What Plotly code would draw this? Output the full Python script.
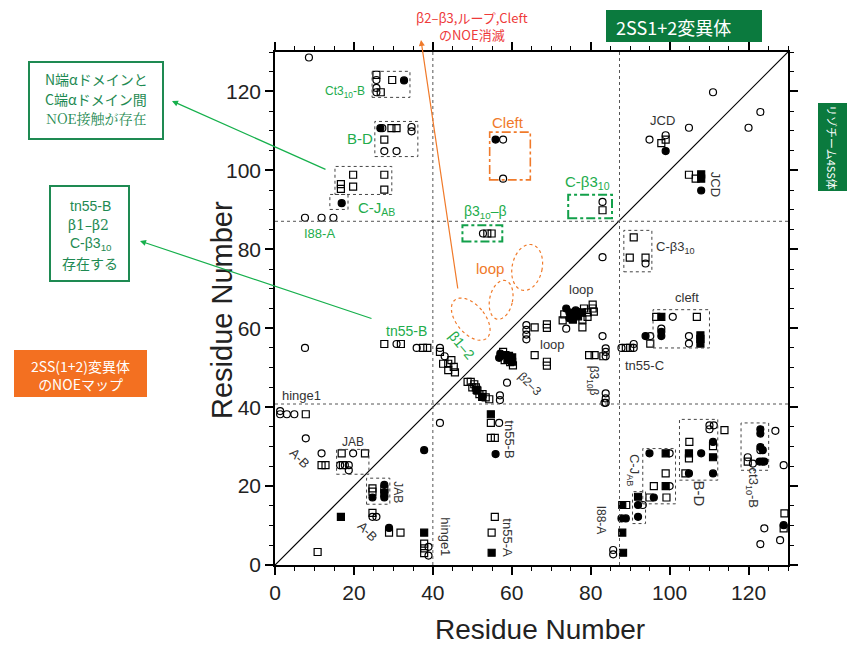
import numpy as np
import plotly.graph_objects as go

# ---------------- data (residue i, residue j) ----------------
oc_x = [8.6, 25.7, 25.7, 25.7, 27.2, 34.6, 34.6, 27.7, 30.8, 7.6, 11.8, 14.8, 57.8, 57.8, 83.0, 52.7,
        111.0, 123.0, 120.0, 104.9, 94.9, 99.0,
        7.6, 30.8, 35.9, 41.8, 43.0, 83.0, 73.8, 63.7, 63.7, 63.7, 63.7, 83.0, 83.8, 83.8, 83.8,
        83.8, 83.8, 83.8, 87.8, 58.8, 57.0, 57.0, 83.5,
        93.9, 100.8, 97.9, 104.9, 104.9, 95.1, 90.9, 90.9,
        1.3, 1.3, 3.0, 4.9, 7.8, 11.8, 19.8, 16.5, 17.7, 18.7, 18.7, 41.8, 24.7, 25.7, 38.9, 38.9,
        56.8, 85.7, 85.7, 93.2, 100.0, 100.0, 110.1, 111.2, 110.1, 126.8, 123.0, 119.8, 121.1, 123.5,
        128.9, 124.0, 128.0, 123.0]
oc_y = [128.6, 122.9, 120.9, 119.8, 110.7, 111.0, 109.9, 104.9, 104.9, 88.0, 88.0, 88.0, 107.8, 97.9, 92.0, 84.0,
        119.8, 114.8, 110.8, 110.8, 107.8, 108.9,
        55.0, 56.0, 55.0, 55.0, 52.9, 78.0, 59.9, 60.8, 59.6, 58.4, 57.2, 58.0, 54.9, 54.0, 52.9,
        43.5, 42.2, 41.1, 55.0, 46.2, 43.0, 41.8, 41.1,
        76.4, 62.9, 59.9, 58.0, 56.1, 58.0, 55.0, 56.0,
        39.0, 38.2, 38.2, 38.2, 32.1, 28.3, 28.3, 25.3, 25.3, 25.3, 24.0, 36.0, 12.2, 12.2, 4.6, 2.4,
        36.0, 3.8, 2.7, 15.2, 28.3, 20.0, 35.4, 35.4, 34.4, 34.0, 29.1, 27.3, 25.7, 26.2,
        25.3, 9.3, 6.3, 5.3]

os_x = [25.7, 29.7, 26.8, 29.5, 30.8, 27.7, 19.8, 27.7, 16.7, 16.7, 19.8, 27.7, 83.0, 53.8, 54.9,
        99.0, 97.9, 104.9, 106.6,
        27.7, 31.9, 37.5, 38.6, 41.8, 42.6, 43.9, 44.7, 43.9, 45.3, 45.6,
        65.8, 68.9, 68.9, 77.9, 65.8, 68.9, 68.9, 79.6, 81.0, 83.2, 88.9, 90.0,
        72.9, 73.3, 78.3, 79.2, 80.5, 80.5, 80.8, 79.2, 77.9,
        57.8, 59.6, 58.2, 60.3,
        48.8, 49.6, 50.5, 50.0, 50.9, 51.3, 51.8, 52.6, 53.4, 54.3,
        90.9, 89.9, 93.9, 96.6, 106.9, 95.1,
        7.8, 11.8, 12.8, 16.9, 22.8, 17.2, 24.7, 24.7, 27.7, 24.7, 28.9, 31.8, 10.8, 37.8, 37.8, 37.8,
        54.7, 54.7, 55.7, 55.7, 54.9, 89.0, 99.0, 96.0, 94.9, 99.2, 113.9, 105.0, 111.0, 104.9, 104.0,
        119.8, 129.1, 128.9]
os_y = [124.2, 122.9, 119.8, 110.7, 110.7, 107.8, 98.9, 98.9, 96.5, 95.3, 95.9, 95.1, 89.9, 84.0, 84.0,
        107.8, 106.9, 98.9, 97.9,
        56.0, 56.0, 55.0, 55.0, 54.0, 51.0, 51.0, 51.9, 49.4, 50.2, 48.8,
        60.2, 61.0, 60.1, 60.2, 53.2, 51.5, 50.5, 53.2, 53.2, 52.9, 55.0, 55.0,
        62.0, 63.5, 65.0, 64.0, 66.0, 65.0, 64.2, 62.9, 62.2,
        54.0, 51.4, 51.9, 50.6,
        46.4, 46.4, 45.8, 45.0, 45.0, 44.2, 43.3, 43.3, 42.5, 42.0,
        83.0, 77.9, 77.9, 62.9, 62.9, 56.1,
        38.2, 25.3, 25.3, 28.3, 28.3, 25.3, 19.4, 18.6, 19.2, 13.2, 8.2, 8.2, 3.3, 5.4, 4.2, 3.0,
        36.0, 32.2, 32.2, 12.2, 8.2, 15.2, 23.2, 20.0, 17.1, 17.1, 34.2, 31.2, 30.1, 27.0, 23.2,
        26.2, 13.1, 9.3]

fc_x = [32.7, 26.7, 16.9, 55.9, 99.0, 108.0,
        73.8, 74.6, 75.4, 74.6, 76.2,
        56.8, 57.1,
        93.9, 97.9, 97.9,
        37.8, 24.7, 27.7, 27.7, 28.9, 55.9, 87.8, 88.9, 94.9, 96.0, 92.0, 92.0, 111.0, 108.0, 104.9,
        111.0, 123.0, 123.0, 123.0, 123.6, 122.8, 124.0, 128.9]
fc_y = [122.8, 110.7, 91.7, 107.8, 104.9, 94.9,
        65.0, 64.0, 63.2, 62.5, 64.5,
        52.5, 53.6,
        58.0, 59.1, 58.0,
        29.1, 17.1, 20.3, 17.1, 9.4, 28.1, 11.8, 11.8, 28.3, 17.1, 15.2, 12.2, 31.2, 28.3, 23.2,
        23.2, 34.4, 33.3, 29.9, 29.1, 26.2, 26.2, 10.1]

fs_x = [108.0, 108.0,
        76.5, 77.8, 76.8, 75.5,
        58.4, 59.3, 60.1, 58.9, 60.1,
        51.1, 52.5,
        97.9, 107.8, 107.8, 107.8,
        27.7, 16.7, 37.8,
        54.7, 54.9, 88.0, 88.0, 88.2, 99.0, 99.0, 92.0, 104.9, 111.0]
fs_y = [99.0, 97.9,
        64.0, 64.0, 63.0, 62.2,
        53.2, 53.0, 52.6, 52.1, 51.5,
        44.4, 42.6,
        62.9, 58.2, 57.3, 56.1,
        18.2, 12.2, 8.2,
        38.2, 3.1, 15.2, 8.2, 3.1, 28.3, 20.0, 17.3, 28.3, 27.3]

# dotted group boxes (x0, x1, y0, y1)
black_boxes = [(24.6, 34.2, 118.5, 125.1), (25.3, 36.2, 103.5, 112.4), (15.2, 29.6, 93.9, 101.0),
               (13.9, 18.5, 90.1, 93.9), (88.4, 95.5, 74.3, 84.8), (95.8, 110.1, 55.0, 64.7),
               (15.6, 23.8, 23.0, 29.3), (23.2, 29.1, 15.4, 22.0), (93.2, 101.5, 15.5, 29.5),
               (90.6, 93.9, 10.5, 18.6), (102.5, 112.2, 21.5, 36.9), (118.1, 125.1, 24.0, 36.0)]
green_boxes = [(74.3, 85.4, 87.9, 93.8), (47.5, 57.6, 82.0, 86.1)]
orange_boxes = [(54.4, 64.7, 97.6, 109.7)]
# loop ellipses: (cx, cy, rx, ry, angle deg)
ellipses = [(63.9, 75.4, 3.8, 5.9, -12), (57.3, 67.2, 2.9, 5.0, -12), (49.6, 62.3, 3.6, 6.3, 40)]

# text labels inside plot: (text, x, y, angle, size, colour)
GREEN = "#22ac4b"
ORANGE = "#f07a2a"
DARK = "#333333"
labels = [
    ("Ct3<sub>10</sub>-B", 17.7, 119.9, 0, 12, GREEN), ("B-D", 21.5, 108.0, 0, 15, GREEN),
    ("C-J<sub>AB</sub>", 25.8, 90.4, 0, 15, GREEN), ("I88-A", 11.4, 84.0, 0, 13, GREEN),
    ("tn55-B", 33.2, 59.2, 0, 14, GREEN), ("β1–2", 47.3, 55.7, 50, 14, GREEN),
    ("β3<sub>10</sub>–β", 53.4, 89.4, 0, 14, GREEN), ("C-β3<sub>10</sub>", 79.2, 97.0, 0, 15, GREEN),
    ("Cleft", 59.0, 112.2, 0, 15, ORANGE), ("loop", 54.4, 75.2, 0, 15, ORANGE),
    ("JCD", 98.3, 112.7, 0, 13, DARK), ("JCD", 111.6, 96.5, 90, 13, DARK),
    ("C-β3<sub>10</sub>", 101.5, 80.5, 0, 13, DARK), ("cleft", 104.5, 67.9, 0, 13, DARK),
    ("loop", 77.7, 69.9, 0, 13, DARK), ("loop", 70.4, 56.0, 0, 13, DARK),
    ("β2–3", 64.6, 45.8, 45, 12, DARK), ("β3<sub>10</sub>β", 80.5, 46.8, 90, 12, DARK),
    ("tn55-C", 93.7, 50.6, 0, 13, DARK), ("hinge1", 6.8, 43.0, 0, 13, DARK),
    ("A-B", 6.3, 27.1, 45, 13, DARK), ("JAB", 19.8, 31.2, 0, 12, DARK),
    ("JAB", 31.1, 18.5, 90, 12, DARK), ("A-B", 23.5, 8.6, 45, 13, DARK),
    ("hinge1", 43.0, 7.1, 90, 13, DARK), ("tn55-B", 59.5, 31.9, 90, 13, DARK),
    ("tn55-A", 59.0, 6.8, 90, 13, DARK), ("I88-A", 82.7, 11.4, 90, 12, DARK),
    ("C-J<sub>AB</sub>", 90.8, 24.0, 90, 13, DARK), ("B-D", 107.6, 18.2, 90, 15, DARK),
    ("ct3<sub>10</sub>-B", 121.0, 19.5, 90, 13, DARK),
]

AX_MAX = 130
x_ticks = [0, 20, 40, 60, 80, 100, 120]
y_ticks = [0, 20, 40, 60, 80, 100, 120]
axis_title = "Residue Number"

# ---------------- figure ----------------
W, H = 847, 645
L, R, T, B = 275, 59, 52, 80
PW, PH = W - L - R, H - T - B


def paper(px, py):
    return (px - L) / PW, (H - B - py) / PH


FONT = "Arial, 'Liberation Sans', sans-serif"
JFONT = "'Noto Sans CJK JP', sans-serif"

fig = go.Figure()
mk = dict(color="black", size=7, line=dict(width=1.2, color="black"))
fig.add_trace(go.Scatter(x=oc_x, y=oc_y, mode="markers", marker=dict(symbol="circle-open", **mk)))
fig.add_trace(go.Scatter(x=os_x, y=os_y, mode="markers", marker=dict(symbol="square-open", **mk)))
fig.add_trace(go.Scatter(x=fc_x, y=fc_y, mode="markers", marker=dict(symbol="circle", **mk)))
fig.add_trace(go.Scatter(x=fs_x, y=fs_y, mode="markers", marker=dict(symbol="square", **mk)))

shapes = []
shapes.append(dict(type="line", x0=0, y0=0, x1=AX_MAX, y1=AX_MAX, line=dict(color="black", width=1.2)))
for v in (40, 87.3):
    shapes.append(dict(type="line", x0=v, x1=v, y0=0, y1=AX_MAX, line=dict(color="#555", width=1, dash="dot")))
for v in (40.8, 87.1):
    shapes.append(dict(type="line", y0=v, y1=v, x0=0, x1=AX_MAX, line=dict(color="#555", width=1, dash="dot")))
for x0, x1, y0, y1 in black_boxes:
    shapes.append(dict(type="rect", x0=x0, x1=x1, y0=y0, y1=y1, line=dict(color="#444", width=1, dash="dot")))
for x0, x1, y0, y1 in green_boxes:
    shapes.append(dict(type="rect", x0=x0, x1=x1, y0=y0, y1=y1, line=dict(color="#12a04a", width=2, dash="dashdot")))
for x0, x1, y0, y1 in orange_boxes:
    shapes.append(dict(type="rect", x0=x0, x1=x1, y0=y0, y1=y1, line=dict(color=ORANGE, width=1.6, dash="dashdot")))
for cx, cy, rx, ry, ang in ellipses:
    a = np.radians(ang)
    t = np.linspace(0, 2 * np.pi, 73)
    ex = cx + rx * np.cos(t) * np.cos(a) - ry * np.sin(t) * np.sin(a)
    ey = cy + rx * np.cos(t) * np.sin(a) + ry * np.sin(t) * np.cos(a)
    path = "M " + " L ".join(f"{u:.3f},{v:.3f}" for u, v in zip(ex, ey)) + " Z"
    shapes.append(dict(type="path", path=path, line=dict(color=ORANGE, width=1.2, dash="dot")))


def prect(px0, py0, px1, py1, **kw):
    x0, y0 = paper(px0, py1)
    x1, y1 = paper(px1, py0)
    shapes.append(dict(type="rect", xref="paper", yref="paper", x0=x0, x1=x1, y0=y0, y1=y1, **kw))


BOXGREEN = "#1e8a52"
prect(29, 62, 163, 139, line=dict(color=BOXGREEN, width=2), fillcolor="white")
prect(50, 186, 129, 281, line=dict(color=BOXGREEN, width=2), fillcolor="white")
prect(14, 350, 147, 397, line=dict(width=0), fillcolor="#f37021")
prect(606, 10, 762, 42, line=dict(width=0), fillcolor="#0b7a3e")
prect(818, 103, 847, 191, line=dict(width=0), fillcolor="#0b7a3e")

ann = []
for txt, x, y, ang, sz, col in labels:
    ann.append(dict(x=x, y=y, text=txt, showarrow=False, textangle=ang,
                    font=dict(family=FONT, size=sz, color=col)))


def ptext(px, py, txt, sz, col, ang=0, fam=JFONT, xanchor="center"):
    x, y = paper(px, py)
    ann.append(dict(xref="paper", yref="paper", x=x, y=y, text=txt, showarrow=False, textangle=ang,
                    xanchor=xanchor, yanchor="middle", font=dict(family=fam, size=sz, color=col)))


ptext(96, 79, "N端αドメインと", 14, BOXGREEN)
ptext(96, 99, "C端αドメイン間", 14, BOXGREEN)
ptext(96, 118, "NOE接触が存在", 14, BOXGREEN, fam="'Noto Serif CJK JP', 'DejaVu Serif', serif")
ptext(90, 206, "tn55-B", 14, BOXGREEN, fam=FONT)
ptext(88, 225, "β1–β2", 14, BOXGREEN, fam="'DejaVu Serif', serif")
ptext(91, 244, "C-β3<sub>10</sub>", 14, BOXGREEN, fam=FONT)
ptext(90, 263, "存在する", 14, BOXGREEN)
ptext(80, 375, "2SS(1+2)変異体<br>のNOEマップ", 14, "white")
ptext(614, 27, "2SS1+2変異体", 18, "white", xanchor="left")
ptext(832, 147, "リゾチーム4SS体", 11, "white", ang=90)
ptext(472, 26, "β2–β3,ループ,Cleft<br>のNOE消滅", 13, "#ee3a3a")
ptext(540, 629, axis_title, 28, "#222", fam=FONT)
ptext(222, 310, axis_title, 29, "#222", ang=-90, fam=FONT)


def parrow(hx, hy, tx, ty, col, w=1.2):
    x, y = paper(hx, hy)
    ann.append(dict(xref="paper", yref="paper", x=x, y=y, ax=tx - hx, ay=ty - hy, text="",
                    showarrow=True, arrowhead=2, arrowsize=1, arrowwidth=w, arrowcolor=col))


parrow(172, 101, 327, 170, "#16b04c")
parrow(140, 241, 373, 319, "#16b04c")
parrow(421, 40, 458, 290, "#f07a2a")

axis_common = dict(range=[0, AX_MAX], showgrid=False, zeroline=False, showline=True, linecolor="black",
                   linewidth=1.5, mirror="ticks", ticks="outside", ticklen=8, tickwidth=1.5,
                   tickcolor="black", tickfont=dict(family=FONT, size=21, color="#222"),
                   minor=dict(dtick=5, ticklen=4, tickwidth=1, ticks="outside", tickcolor="black"))
fig.update_layout(
    width=W, height=H, autosize=False,
    margin=dict(l=L, r=R, t=T, b=B),
    paper_bgcolor="white", plot_bgcolor="white",
    showlegend=False,
    shapes=shapes, annotations=ann,
    xaxis=dict(tickvals=x_ticks, **axis_common),
    yaxis=dict(tickvals=y_ticks, **axis_common),
)
fig.write_html("out.html", config={"displayModeBar": False},
               post_script="document.body.style.margin='0px';")
